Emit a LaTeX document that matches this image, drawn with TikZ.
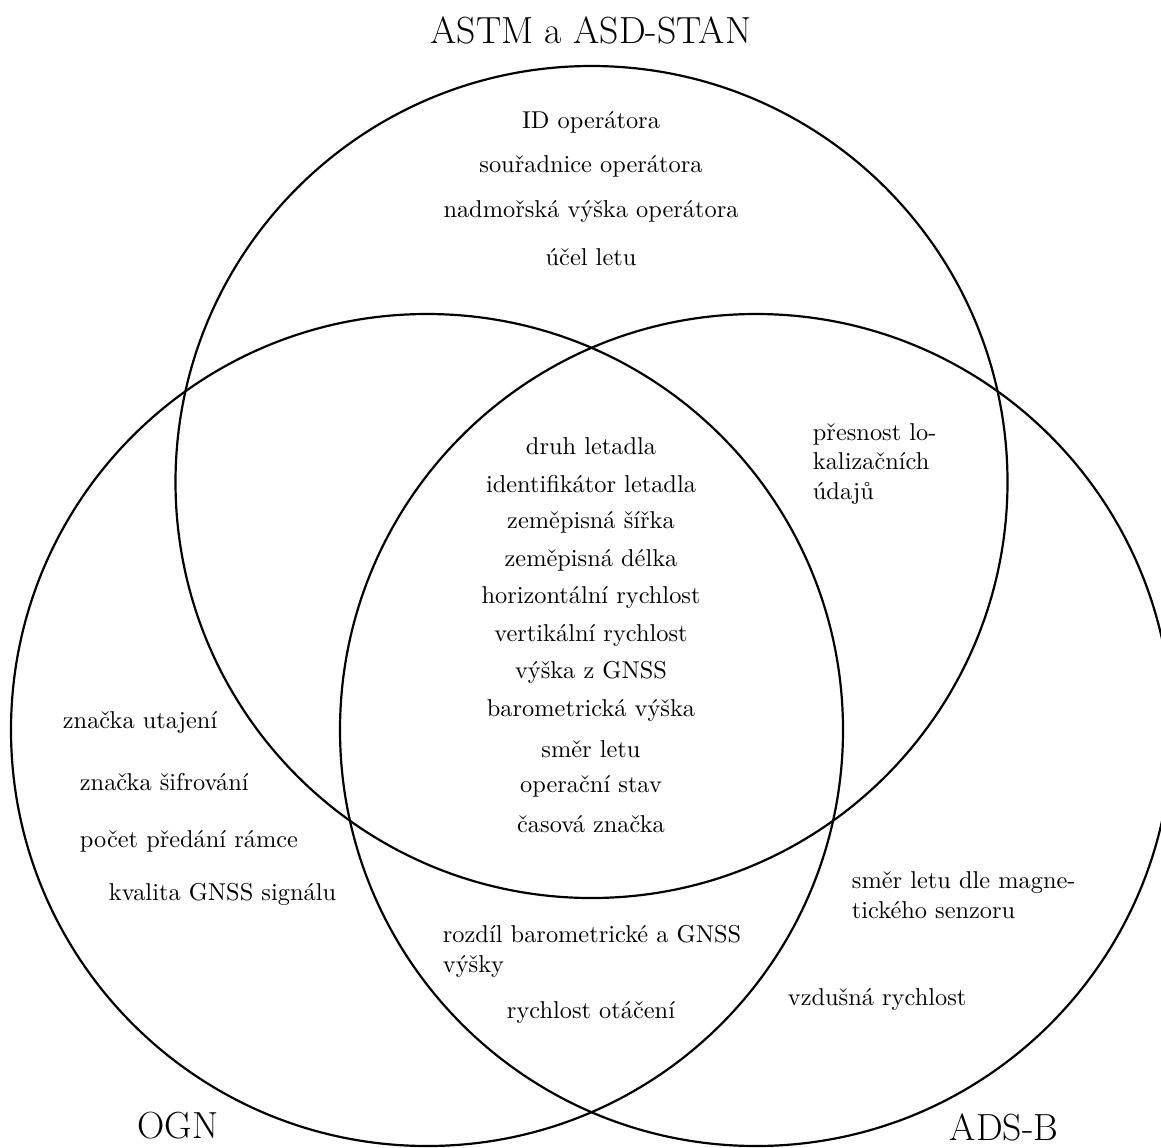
\documentclass[tikz,border=0pt]{standalone}
\usepackage{fontspec}
\tikzset{every picture/.style={line width=0.9pt}}
\begin{document}
\begin{tikzpicture}[x=0.4103pt,y=0.4103pt,yscale=-1,xscale=1]
\path [use as bounding box] (0,0) rectangle (1161,1147); %set diagram size

%Shape: Circle ASTM a ASD-STAN
\draw   (591.5,482) circle (416);
%Shape: Circle OGN
\draw   (427,730) circle (416);
%Shape: Circle ADS-B
\draw   (756,730) circle (416);

% Text Node
\draw (591,43) node [anchor=base][inner sep=0.75pt] (astm)  {\fontsize{15.5}{18}\selectfont ASTM a ASD-STAN};
% Text Node
\draw (178,1138) node [anchor=base][inner sep=0.75pt] (ogn)  {\fontsize{15.5}{18}\selectfont OGN};
% Text Node
\draw (1004,1140) node [anchor=base][inner sep=0.75pt] (adsb)  {\fontsize{15.5}{18}\selectfont ADS-B};

% Text Node
\draw (591,128) node [anchor=base][inner sep=0.75pt] (idop)  {ID operátora};
% Text Node
\draw (591,172) node [anchor=base][inner sep=0.75pt] (souop)  {souřadnice operátora};
% Text Node
\draw (591,217) node [anchor=base][inner sep=0.75pt] (vysop)  {nadmořská výška operátora};
% Text Node
\draw (591,265) node [anchor=base][inner sep=0.75pt] (ucel)  {účel letu};

% Text Node
\draw (591,454) node [anchor=base][inner sep=0.75pt] (druh)  {druh letadla};
% Text Node
\draw (591,492) node [anchor=base][inner sep=0.75pt] (ident)  {identifikátor letadla};
% Text Node
\draw (591,528) node [anchor=base][inner sep=0.75pt] (sirka)  {zeměpisná šířka};
% Text Node
\draw (591,566) node [anchor=base][inner sep=0.75pt] (delka)  {zeměpisná délka};
% Text Node
\draw (591,603) node [anchor=base][inner sep=0.75pt] (hrych)  {horizontální rychlost};
% Text Node
\draw (591,641) node [anchor=base][inner sep=0.75pt] (vrych)  {vertikální rychlost};
% Text Node
\draw (591,678) node [anchor=base][inner sep=0.75pt] (gnss)  {výška z GNSS};
% Text Node
\draw (591,716) node [anchor=base][inner sep=0.75pt] (baro)  {barometrická výška};
% Text Node
\draw (591,757) node [anchor=base][inner sep=0.75pt] (smer)  {směr letu};
% Text Node
\draw (591,792) node [anchor=base][inner sep=0.75pt] (stav)  {operační stav};
% Text Node
\draw (591,832) node [anchor=base][inner sep=0.75pt] (cas)  {časová značka};

% Text Node
\draw (810,499) node [anchor=base west][inner sep=0.75pt,align=left] (presnost)  {přesnost lo-\\kalizačních\\údajů};

% Text Node
\draw (60,728) node [anchor=base west][inner sep=0.75pt] (utaj)  {značka utajení};
% Text Node
\draw (77,790) node [anchor=base west][inner sep=0.75pt] (sifr)  {značka šifrování};
% Text Node
\draw (77,847) node [anchor=base west][inner sep=0.75pt] (pocet)  {počet předání rámce};
% Text Node
\draw (106,900) node [anchor=base west][inner sep=0.75pt] (kval)  {kvalita GNSS signálu};

% Text Node
\draw (440,972) node [anchor=base west][inner sep=0.75pt,align=left] (rozdil)  {rozdíl barometrické a GNSS\\výšky};
% Text Node
\draw (591,1018) node [anchor=base][inner sep=0.75pt] (otac)  {rychlost otáčení};

% Text Node
\draw (849,918) node [anchor=base west][inner sep=0.75pt,align=left] (magn)  {směr letu dle magne-\\tického senzoru};
% Text Node
\draw (785,1005) node [anchor=base west][inner sep=0.75pt] (vzd)  {vzdušná rychlost};

\end{tikzpicture}
\end{document}
